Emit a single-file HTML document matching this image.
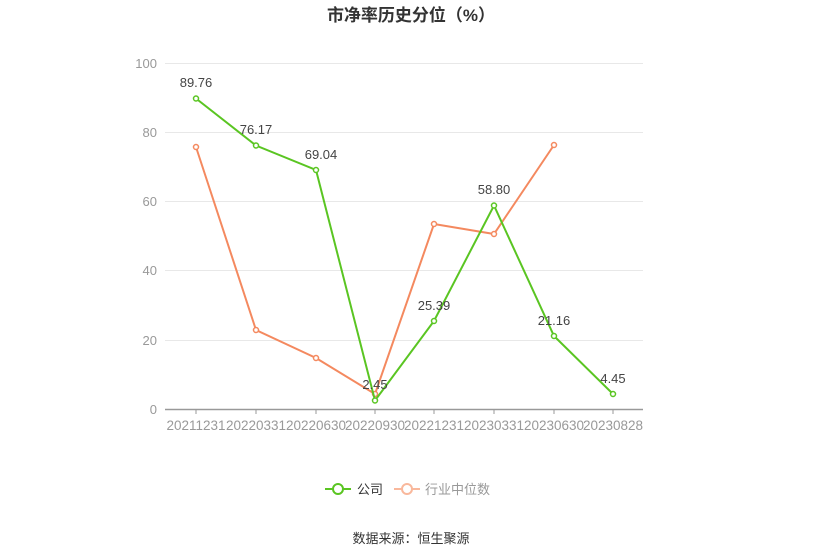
<!DOCTYPE html>
<html><head><meta charset="utf-8"><style>
body{margin:0;background:#fff;}
svg{display:block;font-family:"Liberation Sans","Noto Sans CJK SC",sans-serif;}
</style></head><body>
<svg width="823" height="560" xmlns="http://www.w3.org/2000/svg">
<text x="411" y="21" text-anchor="middle" font-size="17" font-weight="bold" fill="#333">市净率历史分位（%）</text>
<g stroke="#e8e8e8" stroke-width="1">
<line x1="165" y1="63.5" x2="643" y2="63.5"/>
<line x1="165" y1="132.5" x2="643" y2="132.5"/>
<line x1="165" y1="201.5" x2="643" y2="201.5"/>
<line x1="165" y1="270.5" x2="643" y2="270.5"/>
<line x1="165" y1="340.5" x2="643" y2="340.5"/>
</g>
<line x1="165" y1="409.5" x2="643" y2="409.5" stroke="#999" stroke-width="1.5"/>
<g stroke="#999" stroke-width="1">
<line x1="196" y1="409" x2="196" y2="414"/><line x1="256" y1="409" x2="256" y2="414"/>
<line x1="316" y1="409" x2="316" y2="414"/><line x1="375" y1="409" x2="375" y2="414"/>
<line x1="434" y1="409" x2="434" y2="414"/><line x1="494" y1="409" x2="494" y2="414"/>
<line x1="554" y1="409" x2="554" y2="414"/><line x1="613" y1="409" x2="613" y2="414"/>
</g>
<g font-size="13" fill="#999" text-anchor="end">
<text x="157" y="68">100</text><text x="157" y="137">80</text><text x="157" y="206">60</text>
<text x="157" y="275">40</text><text x="157" y="345">20</text><text x="157" y="414">0</text>
</g>
<g font-size="13.5" fill="#999" text-anchor="middle">
<text x="196" y="430">20211231</text><text x="256" y="430">20220331</text>
<text x="316" y="430">20220630</text><text x="375" y="430">20220930</text>
<text x="434" y="430">20221231</text><text x="494" y="430">20230331</text>
<text x="554" y="430">20230630</text><text x="613" y="430">20230828</text>
</g>
<polyline fill="none" stroke="#f4895f" stroke-width="2" points="196,147 256,330 316,358 375,394 434,224 494,234 554,145"/>
<g fill="#fff" stroke="#f4895f" stroke-width="1.5">
<circle cx="196" cy="147" r="2.5"/><circle cx="256" cy="330" r="2.5"/><circle cx="316" cy="358" r="2.5"/>
<circle cx="375" cy="394" r="2.5"/><circle cx="434" cy="224" r="2.5"/><circle cx="494" cy="234" r="2.5"/><circle cx="554" cy="145" r="2.5"/>
</g>
<polyline fill="none" stroke="#5ac522" stroke-width="2" points="196,98.5 256,145.5 316,170 375,400.5 434,321 494,205.5 554,336 613,394"/>
<g fill="#fff" stroke="#5ac522" stroke-width="1.5">
<circle cx="196" cy="98.5" r="2.5"/><circle cx="256" cy="145.5" r="2.5"/><circle cx="316" cy="170" r="2.5"/>
<circle cx="375" cy="400.5" r="2.5"/><circle cx="434" cy="321" r="2.5"/><circle cx="494" cy="205.5" r="2.5"/>
<circle cx="554" cy="336" r="2.5"/><circle cx="613" cy="394" r="2.5"/>
</g>
<g font-size="13" fill="#444" text-anchor="middle">
<text x="196" y="87">89.76</text><text x="256" y="134">76.17</text><text x="321" y="159">69.04</text>
<text x="375" y="389">2.45</text><text x="434" y="310">25.39</text><text x="494" y="194">58.80</text>
<text x="554" y="325">21.16</text><text x="613" y="383">4.45</text>
</g>
<line x1="325" y1="489" x2="351" y2="489" stroke="#5ac522" stroke-width="2"/>
<circle cx="338" cy="489" r="5" fill="#fff" stroke="#5ac522" stroke-width="2"/>
<text x="357" y="494" font-size="13" fill="#333">公司</text>
<line x1="394" y1="489" x2="420" y2="489" stroke="#f9b89c" stroke-width="2"/>
<circle cx="407" cy="489" r="5" fill="#fff" stroke="#f9b89c" stroke-width="2"/>
<text x="425" y="494" font-size="13" fill="#999">行业中位数</text>
<text x="411" y="543" text-anchor="middle" font-size="13" fill="#333">数据来源：恒生聚源</text>
</svg>
</body></html>
